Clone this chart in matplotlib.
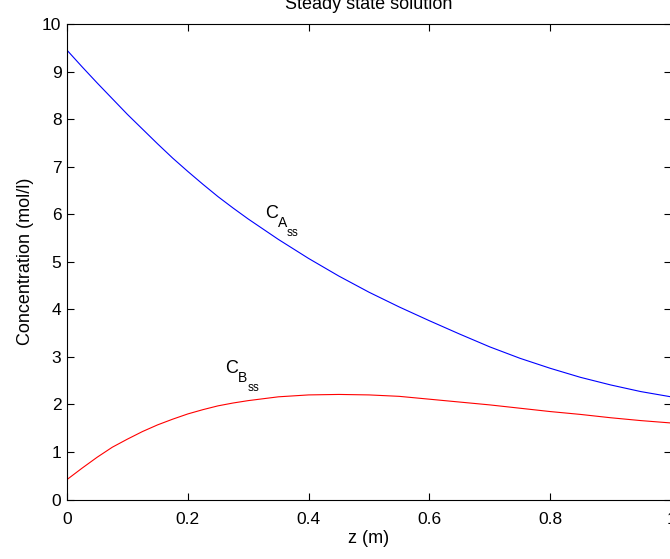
import numpy as np
import matplotlib
matplotlib.use("Agg")
import matplotlib.pyplot as plt

plt.rcParams["font.family"] = ["Liberation Sans", "DejaVu Sans"]
plt.rcParams["font.size"] = 12

# Данные (z в метрах, концентрации в моль/л)
z = [0.000, 0.025, 0.050, 0.075, 0.100, 0.125, 0.150, 0.175, 0.200, 0.225,
     0.250, 0.275, 0.30, 0.35, 0.40, 0.45, 0.50, 0.55, 0.60, 0.65, 0.70,
     0.75, 0.80, 0.85, 0.90, 0.95, 1.00]
c_a = [9.45, 9.10, 8.76, 8.43, 8.10, 7.79, 7.48, 7.18, 6.90, 6.63,
       6.37, 6.13, 5.90, 5.47, 5.07, 4.70, 4.36, 4.05, 3.76, 3.48, 3.21,
       2.97, 2.76, 2.57, 2.41, 2.27, 2.16]
c_b = [0.42, 0.66, 0.89, 1.10, 1.27, 1.43, 1.57, 1.69, 1.80, 1.89,
       1.97, 2.03, 2.08, 2.16, 2.20, 2.21, 2.20, 2.17, 2.11, 2.05, 1.99,
       1.92, 1.85, 1.79, 1.72, 1.66, 1.61]

x_ticks = [0, 0.2, 0.4, 0.6, 0.8, 1.0]
x_tick_labels = ["0", "0.2", "0.4", "0.6", "0.8", "1"]
y_ticks = list(range(0, 11))

# Подписи кривых: (главная буква, индекс, точка привязки)
label_a = ("C", "A", (0.328, 5.93))
label_b = ("C", "B", (0.262, 2.67))


def put_label(ax, main, sub, anchor):
    # MATLAB-style вложенный индекс: C_{A_{ss}}
    ax.annotate(main, xy=anchor, fontsize=13, ha="left", va="baseline")
    ax.annotate(sub, xy=anchor, xytext=(9.2, -6.8), textcoords="offset points",
                fontsize=10, ha="left", va="baseline")
    ax.annotate("ss", xy=anchor, xytext=(15.8, -13.2), textcoords="offset points",
                fontsize=8.5, ha="left", va="baseline")


fig = plt.figure(figsize=(6.70, 5.59), dpi=100)
ax = fig.add_axes([0.1, 0.1064, 0.9015, 0.8506])

ax.plot(z, c_a, color="blue", linewidth=0.8)
ax.plot(z, c_b, color="red", linewidth=0.8)

put_label(ax, *label_a)
put_label(ax, *label_b)

ax.set_xlim(0, 1)
ax.set_ylim(0, 10)
ax.set_xticks(x_ticks)
ax.set_xticklabels(x_tick_labels)
ax.set_yticks(y_ticks)
ax.tick_params(direction="in", length=5, width=0.8, top=True, right=True,
               labelsize=12.5)
ax.tick_params(axis="x", pad=9)
ax.tick_params(axis="y", pad=4)
for sp in ax.spines.values():
    sp.set_linewidth(0.8)

ax.set_title("Steady state solution", fontsize=13, pad=11)
ax.set_xlabel("z (m)", fontsize=13, labelpad=2)
ax.set_ylabel("Concentration (mol/l)", fontsize=13, labelpad=6)

fig.savefig("out.png", dpi=100)
